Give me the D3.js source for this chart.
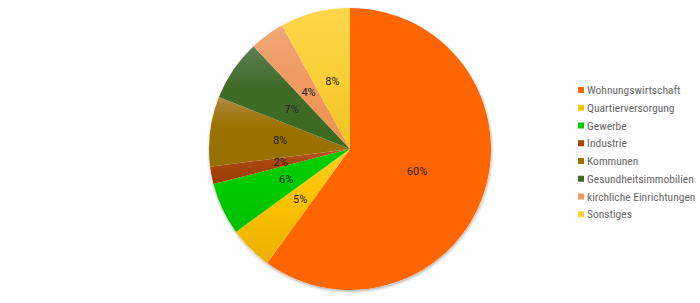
<!DOCTYPE html>
<html>
<head>
<meta charset="utf-8">
<script src="https://cdn.jsdelivr.net/npm/d3@7"></script>
<style>
  html, body { margin: 0; padding: 0; background: #fff; }
  svg { display: block; font-family: Roboto, "Noto Sans", sans-serif; }
</style>
</head>
<body>
<svg id="chart" width="700" height="303"></svg>
<script>
// Anteile in Prozent, Reihenfolge im Uhrzeigersinn ab 12 Uhr
var categories = ['Wohnungswirtschaft', 'Quartierversorgung', 'Gewerbe', 'Industrie',
                  'Kommunen', 'Gesundheitsimmobilien', 'kirchliche Einrichtungen', 'Sonstiges'];
var shares = [60, 5, 6, 2, 8, 7, 4, 8];
var colors = ['#ff6600', '#ffc400', '#00cc00', '#a8460f', '#9c7200', '#3f6a27', '#f09a62', '#fcd03a'];
// helle Oberkante / dunkle Unterkante der Verläufe
var colorsTop = ['#ff6600', '#ffcc2a', '#00cc00', '#b55a30', '#b08a45', '#5f7f54', '#f2a878', '#ffd64c'];
var colorsBottom = ['#ff6600', '#e8b000', '#00bf00', '#9a3c00', '#967000', '#3a6a20', '#ef9050', '#f0c420'];

var svg = d3.select('#chart');
var cx = 350, cy = 149, radius = 141;

var defs = svg.append('defs');

var shadow = defs.append('filter').attr('id', 'shadow')
	.attr('x', '-10%').attr('y', '-10%').attr('width', '120%').attr('height', '120%');
shadow.append('feDropShadow')
	.attr('dx', 0.5).attr('dy', 1.5).attr('stdDeviation', 1.5)
	.attr('flood-color', '#000').attr('flood-opacity', 0.35);

categories.forEach(function (c, i) {
	var g = defs.append('linearGradient').attr('id', 'grad' + i)
		.attr('x1', 0).attr('y1', 0).attr('x2', 0).attr('y2', 1);
	g.append('stop').attr('offset', '0%').attr('stop-color', colorsTop[i]);
	g.append('stop').attr('offset', '40%').attr('stop-color', colors[i]);
	g.append('stop').attr('offset', '100%').attr('stop-color', colorsBottom[i]);
});

var pie = d3.pie().sort(null).value(function (d) { return d; });
var arcs = pie(shares);

var arc = d3.arc().innerRadius(0).outerRadius(radius);
var labelArc = d3.arc().innerRadius(radius * 0.5).outerRadius(radius * 0.5);

var pieG = svg.append('g').attr('transform', 'translate(' + cx + ',' + cy + ')');

// Schatten unter dem ganzen Kreis
pieG.append('circle').attr('r', radius).attr('fill', '#fff').attr('filter', 'url(#shadow)');

pieG.selectAll('path.slice')
	.data(arcs)
	.enter().append('path')
	.attr('class', 'slice')
	.attr('d', arc)
	.attr('fill', function (d, i) { return 'url(#grad' + i + ')'; });

pieG.selectAll('text.lbl')
	.data(arcs)
	.enter().append('text')
	.attr('class', 'lbl')
	.attr('transform', function (d) { return 'translate(' + labelArc.centroid(d) + ')'; })
	.attr('text-anchor', 'middle')
	.attr('dy', '0.35em')
	.attr('font-size', 11)
	.attr('fill', '#222')
	.text(function (d) { return d.data + '%'; });

// Legende
var legend = svg.append('g').attr('transform', 'translate(578,90)');
var row = d3.scaleBand().domain(categories).range([0, 142]);

var item = legend.selectAll('g.item')
	.data(categories)
	.enter().append('g')
	.attr('class', 'item')
	.attr('transform', function (d) { return 'translate(0,' + row(d) + ')'; });

item.append('rect')
	.attr('x', 0).attr('y', -3).attr('width', 6).attr('height', 6)
	.attr('fill', function (d, i) { return colors[i]; });

item.append('text')
	.attr('x', 9).attr('dy', '0.35em')
	.attr('font-size', 11.5)
	.attr('font-family', '"Liberation Sans Narrow", "Roboto Condensed", Roboto, sans-serif')
	.attr('fill', '#666')
	.text(function (d) { return d; });
</script>
</body>
</html>
